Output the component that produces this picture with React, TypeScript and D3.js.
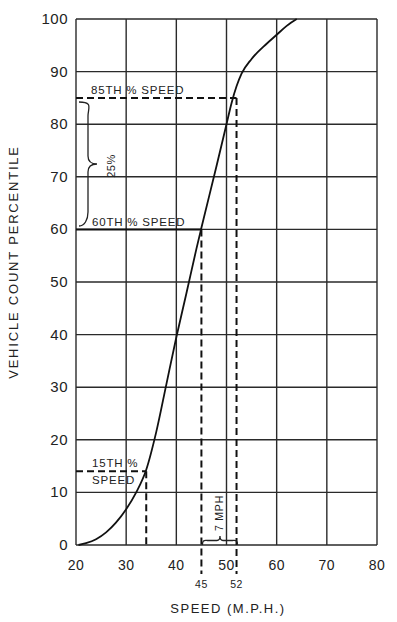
import React from "react";
import * as d3 from "d3";

const W = 397;
const H = 622;

const xTicks = [20, 30, 40, 50, 60, 70, 80];
const yTicks = [0, 10, 20, 30, 40, 50, 60, 70, 80, 90, 100];

const curveSpeed = [20.5, 22, 24, 26, 28, 30, 32, 34, 36, 38, 40, 42, 44, 45, 48, 50, 51, 52, 53, 55, 58, 60, 62, 64];
const curvePct = [0, 0.35, 1.1, 2.4, 4.3, 6.8, 10, 14.3, 21.5, 30.5, 39.5, 47.8, 56.3, 60.3, 72, 80, 84, 87.2, 89.6, 92.4, 95.3, 97, 98.7, 100];

const p15 = { speed: 34, pct: 14 };
const p60 = { speed: 45, pct: 60 };
const p85 = { speed: 52, pct: 85 };

const font = "'Liberation Sans', Arial, sans-serif";

export default function App() {
  const x = d3.scaleLinear().domain([20, 80]).range([76, 377]);
  const y = d3.scaleLinear().domain([0, 100]).range([545, 19]);

  const pts = curveSpeed.map((s, i) => [s, curvePct[i]] as [number, number]);
  const line = d3
    .line<[number, number]>()
    .x((d) => x(d[0]))
    .y((d) => y(d[1]))
    .curve(d3.curveMonotoneX);

  const dash = "7 4";
  const gridColor = "#2a2a2a";

  const vBrace = (x0: number, y0: number, y1: number, w: number) => {
    const ym = (y0 + y1) / 2;
    return `M${x0},${y0} C${x0 + w * 0.8},${y0} ${x0 + w * 0.5},${y0 + 6} ${x0 + w * 0.5},${y0 + 14}
      L${x0 + w * 0.5},${ym - 8} C${x0 + w * 0.5},${ym - 2} ${x0 + w * 0.7},${ym} ${x0 + w},${ym}
      C${x0 + w * 0.7},${ym} ${x0 + w * 0.5},${ym + 2} ${x0 + w * 0.5},${ym + 8}
      L${x0 + w * 0.5},${y1 - 14} C${x0 + w * 0.5},${y1 - 6} ${x0 + w * 0.3},${y1} ${x0},${y1}`;
  };

  const hBrace = (x0: number, x1: number, yb: number, h: number) => {
    const xm = (x0 + x1) / 2;
    return `M${x0},${yb} C${x0},${yb - h * 0.6} ${x0 + 2},${yb - h * 0.5} ${x0 + 5},${yb - h * 0.5}
      L${xm - 3},${yb - h * 0.5} C${xm - 1},${yb - h * 0.5} ${xm},${yb - h * 0.7} ${xm},${yb - h}
      C${xm},${yb - h * 0.7} ${xm + 1},${yb - h * 0.5} ${xm + 3},${yb - h * 0.5}
      L${x1 - 5},${yb - h * 0.5} C${x1 - 2},${yb - h * 0.5} ${x1},${yb - h * 0.6} ${x1},${yb}`;
  };

  return (
    <svg width={W} height={H} style={{ display: "block", position: "absolute", left: 0, top: 0 }}>
      <rect x={0} y={0} width={W} height={H} fill="#fff" />
      <g stroke={gridColor} strokeWidth={1.4}>
        {xTicks.map((t) => (
          <line key={"gx" + t} x1={x(t)} x2={x(t)} y1={y(0)} y2={y(100)} />
        ))}
        {yTicks.map((t) => (
          <line key={"gy" + t} x1={x(20)} x2={x(80)} y1={y(t)} y2={y(t)} />
        ))}
      </g>
      <g fontFamily={font} fontSize={15} fill="#222" textAnchor="end" letterSpacing={0.5}>
        {yTicks.map((t) => (
          <text key={"ty" + t} x={68} y={y(t) + 5}>
            {t}
          </text>
        ))}
      </g>
      <g fontFamily={font} fontSize={14} fill="#222" textAnchor="middle" letterSpacing={0.5}>
        {xTicks.map((t) => (
          <text key={"tx" + t} x={x(t)} y={570}>
            {t}
          </text>
        ))}
      </g>
      <g stroke="#111" strokeWidth={2} strokeDasharray={dash} fill="none">
        <line x1={x(20)} x2={x(p85.speed)} y1={y(p85.pct)} y2={y(p85.pct)} />
        <line x1={x(p85.speed)} x2={x(p85.speed)} y1={y(p85.pct)} y2={574} />
        <line x1={x(p60.speed)} x2={x(p60.speed)} y1={y(p60.pct)} y2={574} />
        <line x1={x(20)} x2={x(p15.speed)} y1={y(p15.pct)} y2={y(p15.pct)} />
        <line x1={x(p15.speed)} x2={x(p15.speed)} y1={y(p15.pct)} y2={y(0)} />
      </g>
      <line x1={x(20)} x2={x(p60.speed)} y1={y(p60.pct)} y2={y(p60.pct)} stroke="#111" strokeWidth={2} />
      <path d={line(pts) ?? ""} fill="none" stroke="#111" strokeWidth={1.8} />
      <g fontFamily={font} fontSize={11.5} fill="#222" letterSpacing={0.8}>
        <text x={91} y={94}>85TH % SPEED</text>
        <text x={92} y={226}>60TH % SPEED</text>
        <text x={92} y={467}>15TH %</text>
        <text x={92} y={484}>SPEED</text>
      </g>
      <path d={vBrace(79, 102, 226, 18)} fill="none" stroke="#222" strokeWidth={1.3} />
      <text
        transform={`translate(115,${166}) rotate(-90)`}
        fontFamily={font}
        fontSize={11}
        fill="#222"
        textAnchor="middle"
        letterSpacing={0.5}
      >
        25%
      </text>
      <path d={hBrace(x(p60.speed) + 1, x(p85.speed) + 1, 545, 9)} fill="none" stroke="#222" strokeWidth={1.3} />
      <text
        transform={`translate(223,${513}) rotate(-90)`}
        fontFamily={font}
        fontSize={10.5}
        fill="#222"
        textAnchor="middle"
        letterSpacing={0.8}
      >
        7 MPH
      </text>
      <g fontFamily={font} fontSize={10.5} fill="#222" textAnchor="middle" letterSpacing={0.5}>
        <text x={x(p60.speed)} y={588}>45</text>
        <text x={x(p85.speed)} y={588}>52</text>
      </g>
      <text x={228} y={613} fontFamily={font} fontSize={13} fill="#222" textAnchor="middle" letterSpacing={1.5}>
        SPEED (M.P.H.)
      </text>
      <text
        transform={`translate(18,${262}) rotate(-90)`}
        fontFamily={font}
        fontSize={13}
        fill="#222"
        textAnchor="middle"
        letterSpacing={1.8}
      >
        VEHICLE COUNT PERCENTILE
      </text>
    </svg>
  );
}
